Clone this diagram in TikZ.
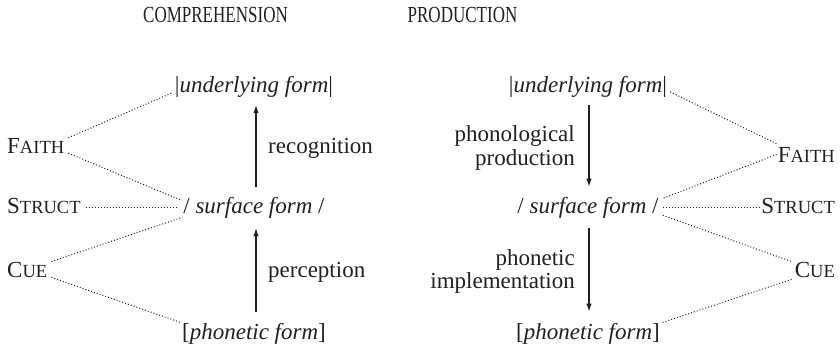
\documentclass[tikz,border=0pt]{standalone}
\usepackage{fontspec}
\setmainfont{Liberation Serif}[Ligatures=TeX]
\usetikzlibrary{arrows.meta,calc}
\newcommand\smc[1]{{\fontsize{18.5}{18.5}\selectfont #1}}
\definecolor{ink}{HTML}{231F20}
\begin{document}
\begin{tikzpicture}[x=1pt,y=-1pt,
  txt/.style={inner sep=0pt,font=\rmfamily\fontsize{23}{23}\selectfont,text=ink},
  twoline/.style={txt,align=right,font=\rmfamily\fontsize{23}{23.5}\selectfont},
  dots/.style={draw=ink,line width=1pt,dash pattern=on 1pt off 2pt},
  arr/.style={draw=ink,line width=1.1pt,-{Latex[length=8pt,width=5.5pt]}}]
\useasboundingbox (0,0) rectangle (840,348);

% titles
\node[txt,anchor=base] (tc) at (215.5,23) {\scalebox{0.74}[1]{COMPREHENSION}};
\node[txt,anchor=base] (tp) at (462.5,23) {\scalebox{0.74}[1]{PRODUCTION}};

% left column
\node[txt,anchor=base] (ufL) at (254,92) {|\textit{underlying form}|};
\node[txt,anchor=base] (sfL) at (254,213) {/ \textit{surface form} /};
\node[txt,anchor=base] (pfL) at (254,339) {[\textit{phonetic form}]};
\node[txt,anchor=base west] (faithL) at (7,153) {F\smc{AITH}};
\node[txt,anchor=base west] (structL) at (7,213) {S\smc{TRUCT}};
\node[txt,anchor=base west] (cueL) at (7,277) {C\smc{UE}};
\node[txt,anchor=base west] (rec) at (268,153) {recognition};
\node[txt,anchor=base west] (per) at (268,277) {perception};

% right column
\node[txt,anchor=base] (ufR) at (588,92) {|\textit{underlying form}|};
\node[txt,anchor=base] (sfR) at (588,213) {/ \textit{surface form} /};
\node[txt,anchor=base] (pfR) at (588,339) {[\textit{phonetic form}]};
\node[txt,anchor=base east] (faithR) at (835,162) {F\smc{AITH}};
\node[txt,anchor=base east] (structR) at (835,213) {S\smc{TRUCT}};
\node[txt,anchor=base east] (cueR) at (835,277) {C\smc{UE}};
\node[twoline,anchor=east] (pp) at (575,148) {phonological\\production};
\node[twoline,anchor=east] (pi) at (575,271.5) {phonetic\\implementation};

% arrows
\draw[arr,shorten <=10pt,shorten >=8pt] ([xshift=2pt]sfL.north) -- ([xshift=2pt]ufL.south);
\draw[arr,shorten <=11pt,shorten >=10pt] ([xshift=2pt]pfL.north) -- ([xshift=2pt]sfL.south);
\draw[arr,shorten <=8pt,shorten >=10pt] ([xshift=1pt]ufR.south) -- ([xshift=1pt]sfR.north);
\draw[arr,shorten <=10pt,shorten >=11pt] ([xshift=1pt]sfR.south) -- ([xshift=1pt]pfR.north);

% left dotted lines
\draw[dots] ([xshift=4pt]faithL.north east) -- ([shift={(-3,1)}]ufL.base west);
\draw[dots] ([xshift=4pt]faithL.south east) -- ([shift={(-3,-7.5)}]sfL.west);
\draw[dots] ([xshift=5pt]structL.east |- sfL.west) -- ([xshift=-5pt]sfL.west);
\draw[dots] ([xshift=4pt]cueL.north east) -- ([shift={(-1,10)}]sfL.west);
\draw[dots] ([xshift=4pt]cueL.south east) -- ([xshift=-1pt]pfL.north west);

% right dotted lines
\draw[dots] ([xshift=3pt]ufR.base east) -- ([shift={(-1,-3)}]faithR.north west);
\draw[dots] ([xshift=-1pt]faithR.west) -- ([shift={(4,-9)}]sfR.east);
\draw[dots] ([xshift=4pt]sfR.east) -- ([xshift=-2pt]structR.west |- sfR.east);
\draw[dots] ([shift={(4,8)}]sfR.east) -- ([xshift=-3pt]cueR.north west);
\draw[dots] ([shift={(-3,2)}]cueR.south west) -- ([xshift=2pt]pfR.north east);
\end{tikzpicture}
\end{document}
